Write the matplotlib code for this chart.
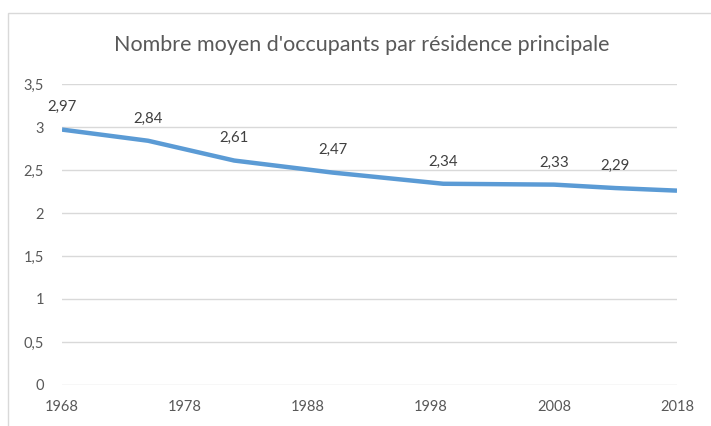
import matplotlib.pyplot as plt
from matplotlib.patches import Rectangle
from matplotlib.ticker import FuncFormatter

# Données
annees = [1968, 1975, 1982, 1990, 1999, 2008, 2013, 2018]
occupants = [2.97, 2.84, 2.61, 2.47, 2.34, 2.33, 2.29, 2.26]
# la dernière valeur n'a pas d'étiquette sur l'original
etiquettes = ["2,97", "2,84", "2,61", "2,47", "2,34", "2,33", "2,29", None]
graduations_x = [1968, 1978, 1988, 1998, 2008, 2018]
graduations_y = [0, 0.5, 1, 1.5, 2, 2.5, 3, 3.5]

plt.rcParams['font.family'] = ['Lato', 'DejaVu Sans']

fig = plt.figure(figsize=(7.11, 4.26), dpi=100)
fig.patch.set_facecolor('white')

# cadre gris clair du graphique (bord gauche et haut visibles)
fig.patches.append(Rectangle((8 / 711, -0.1), 1.2, 1 - 13 / 426 + 0.1,
                             transform=fig.transFigure, fill=False,
                             edgecolor='#D9D9D9', linewidth=1.0))

ax = fig.add_axes([62 / 711, 1 - 385 / 426, (677 - 62) / 711, (385 - 84) / 426])
ax.plot(annees, occupants, color='#5B9BD5', linewidth=3.2,
        solid_joinstyle='round', solid_capstyle='butt', zorder=3)

for x, y, t in zip(annees, occupants, etiquettes):
    if t:
        ax.annotate(t, (x, y), xytext=(0, 16), textcoords='offset points',
                    ha='center', va='center', fontsize=10.8, color='#404040')

ax.set_xlim(1968, 2018)
ax.set_ylim(0, 3.5)
ax.set_xticks(graduations_x)
ax.set_yticks(graduations_y)
ax.yaxis.set_major_formatter(FuncFormatter(lambda v, p: f"{v:g}".replace('.', ',')))
ax.grid(axis='y', color='#D9D9D9', linewidth=1.0)
ax.set_axisbelow(True)
for s in ax.spines.values():
    s.set_visible(False)
ax.tick_params(axis='both', length=0, labelsize=10.5, labelcolor='#595959')
ax.tick_params(axis='y', pad=13)
ax.tick_params(axis='x', pad=11)

fig.text(362 / 711, 1 - 45 / 426, "Nombre moyen d'occupants par résidence principale",
         ha='center', va='center', fontsize=15.5, color='#595959')

fig.savefig('out.png', dpi=100, facecolor='white')
